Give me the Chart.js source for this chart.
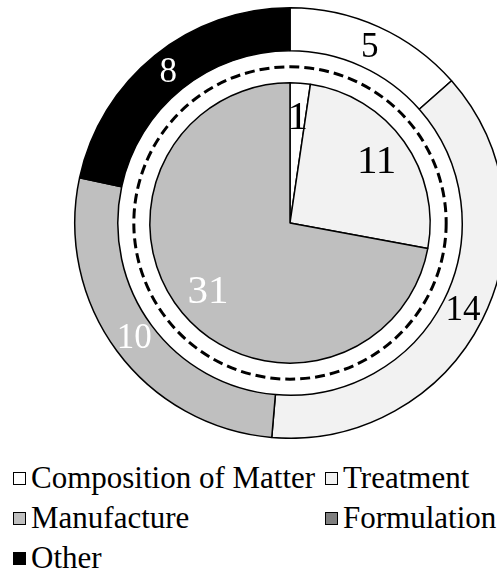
<!DOCTYPE html>
<html>
<head>
<meta charset="utf-8">
<script src="https://cdn.jsdelivr.net/npm/chart.js@4/dist/chart.umd.min.js"></script>
<style>
  html, body { margin: 0; padding: 0; background: #fff; }
  body { width: 497px; height: 571px; overflow: hidden; position: relative; font-family: 'Liberation Serif', 'Times New Roman', serif; }
  #chartWrap { position: absolute; left: 0; top: 7px; width: 580px; height: 432px; }
  #legend {
    position: absolute; left: 13px; top: 458px;
    display: grid; grid-template-columns: 312px auto; grid-auto-rows: 40px;
  }
  .legend-item { display: flex; align-items: center; font-size: 31px; line-height: 40px; color: #000; white-space: nowrap; }
  .legend-box { width: 13px; height: 13px; box-sizing: border-box; border: 1px solid #000; margin-right: 5px; flex: none; }
</style>
</head>
<body>
<div id="chartWrap"><canvas id="patentChart"></canvas></div>
<div id="legend"></div>
<script>
// --- Data ---
const categories = ['Composition of Matter', 'Treatment', 'Manufacture', 'Formulation', 'Other'];
const outerValues = [5, 14, 10, 0, 8];   // outer ring
const innerValues = [1, 11, 31, 0, 0];   // inner pie

// --- Styles ---
const fillColors = ['#ffffff', '#f2f2f2', '#bfbfbf', '#7f7f7f', '#000000'];
const labelColors = ['#000', '#000', '#fff', '#fff', '#fff'];

// draws the dashed circle in the gap between ring and pie
const dashedRing = {
  id: 'dashedRing',
  afterDatasetsDraw(chart) {
    const arc = chart.getDatasetMeta(1).data[0];
    if (!arc) return;
    const { x, y, innerRadius, outerRadius } = arc.getProps(['x', 'y', 'innerRadius', 'outerRadius'], true);
    const ctx = chart.ctx;
    ctx.save();
    ctx.beginPath();
    ctx.setLineDash([10, 5]);
    ctx.lineWidth = 3;
    ctx.strokeStyle = '#000';
    ctx.arc(x, y, (innerRadius + outerRadius) / 2, 0, Math.PI * 2);
    ctx.stroke();
    ctx.restore();
  }
};

// value labels on the slices
const sliceLabels = {
  id: 'sliceLabels',
  afterDatasetsDraw(chart) {
    const ctx = chart.ctx;
    const setups = [
      { index: 0, size: 35, pos: r => (r.innerRadius + r.outerRadius) / 2 },
      { index: 2, size: 41, pos: r => r.outerRadius * 0.76 }
    ];
    ctx.save();
    ctx.textAlign = 'center';
    ctx.textBaseline = 'middle';
    setups.forEach(s => {
      const meta = chart.getDatasetMeta(s.index);
      const values = chart.data.datasets[s.index].data;
      meta.data.forEach((arc, i) => {
        if (!values[i]) return;
        const p = arc.getProps(['x', 'y', 'startAngle', 'endAngle', 'innerRadius', 'outerRadius'], true);
        const mid = (p.startAngle + p.endAngle) / 2;
        const r = s.pos(p);
        ctx.font = s.size + 'px "Liberation Serif", "Times New Roman", serif';
        ctx.fillStyle = labelColors[i];
        ctx.fillText(String(values[i]), p.x + Math.cos(mid) * r, p.y + Math.sin(mid) * r + 1);
      });
    });
    ctx.restore();
  }
};

new Chart(document.getElementById('patentChart'), {
  type: 'doughnut',
  data: {
    labels: categories,
    datasets: [
      {
        data: outerValues,
        backgroundColor: fillColors,
        borderColor: '#000',
        borderWidth: 1.5,
        weight: 43
      },
      {
        // empty spacer ring holding the dashed circle
        data: [1],
        backgroundColor: 'rgba(0,0,0,0)',
        borderWidth: 0,
        weight: 32
      },
      {
        data: innerValues,
        backgroundColor: fillColors,
        borderColor: '#000',
        borderWidth: 1.5,
        weight: 140
      }
    ]
  },
  options: {
    responsive: true,
    maintainAspectRatio: false,
    animation: false,
    cutout: 0,
    layout: { padding: 0 },
    plugins: {
      legend: { display: false },
      tooltip: { enabled: false }
    }
  },
  plugins: [dashedRing, sliceLabels]
});

// --- Legend (two columns, Excel style) ---
const legend = document.getElementById('legend');
categories.forEach((name, i) => {
  const item = document.createElement('div');
  item.className = 'legend-item';
  item.innerHTML = `<span class="legend-box" style="background:${fillColors[i]}"></span><span>${name}</span>`;
  legend.appendChild(item);
});
</script>
</body>
</html>
